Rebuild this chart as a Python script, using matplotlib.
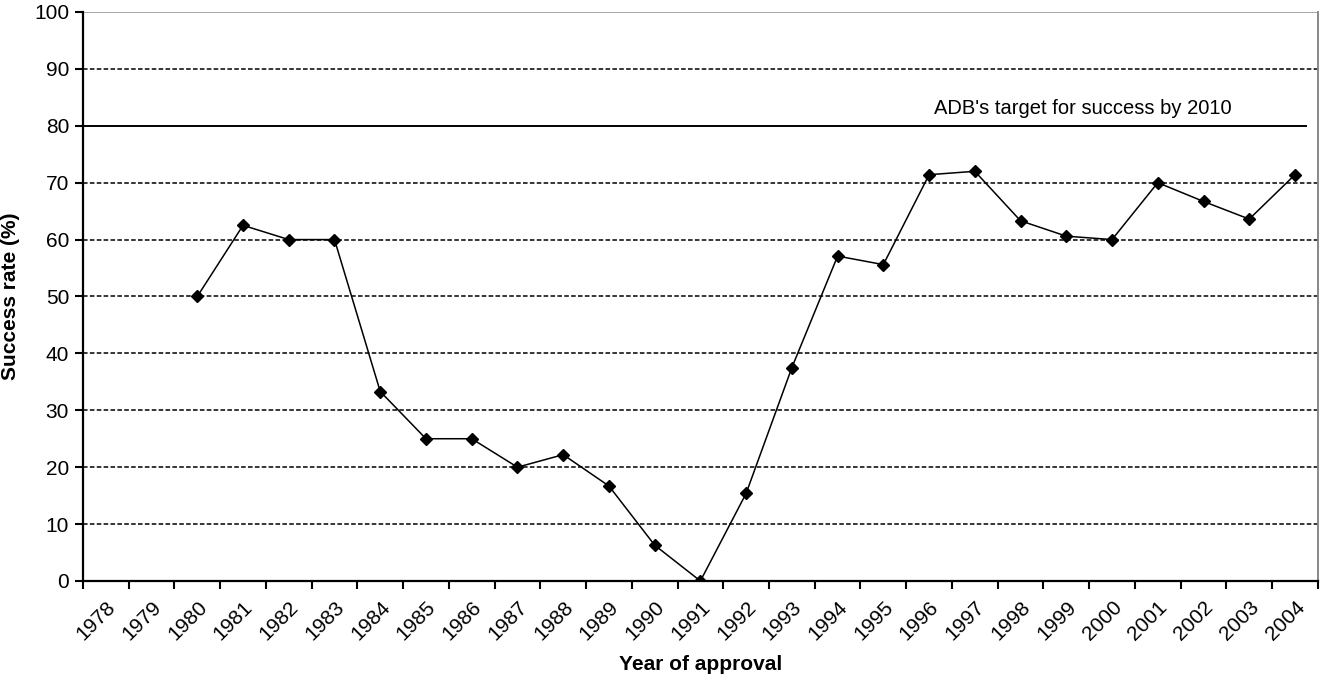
import matplotlib
matplotlib.use("Agg")
import matplotlib.pyplot as plt
import numpy as np

years = list(range(1978, 2005))
# success rate per approval year; no data for 1978-1979
rates = [None, None, 50, 62.5, 60, 60, 33.3, 25, 25, 20, 22.2, 16.7, 6.3, 0,
         15.4, 37.5, 57.1, 55.6, 71.4, 72, 63.3, 60.6, 60, 70, 66.7, 63.6, 71.4]
target = 80
yticks = list(range(0, 101, 10))

plt.rcParams['font.family'] = ['Liberation Sans', 'DejaVu Sans']

fig = plt.figure(figsize=(13.25, 6.8), dpi=100)
ax = fig.add_axes([0.0626, 0.1456, 0.932, 0.8368])

x = np.arange(len(years)) + 0.5
y = np.array([np.nan if r is None else r for r in rates], dtype=float)

for v in yticks[1:-1]:
    if v == target:
        continue
    ax.axhline(v, color='black', lw=1.1, ls=(0, (3, 1.5)), zorder=1)
ax.axhline(100, color='#999999', lw=1.2, zorder=1)
ax.plot([0, len(years) - 0.25], [target, target], color='black', lw=1.4, zorder=2)
ax.text(18.6, target + 1.3, "ADB's target for success by 2010", fontsize=14.5,
        ha='left', va='bottom')

ax.plot(x, y, color='black', lw=1.1, marker='D', markersize=6.5, zorder=3)

ax.set_xlim(0, len(years))
ax.set_ylim(0, 100)
ax.set_yticks(yticks)
ax.set_xticks(np.arange(len(years) + 1))
ax.set_xticklabels([])
ax.set_xticks(x, minor=True)
ax.set_xticklabels([str(yr) for yr in years], minor=True, rotation=45,
                   ha='right', rotation_mode='anchor', fontsize=15)
ax.tick_params(axis='x', which='minor', length=0, pad=12)
ax.tick_params(axis='x', which='major', length=6, width=1.5)
ax.tick_params(axis='y', length=6, width=1.5, labelsize=15, pad=4)

for s in ['left', 'bottom']:
    ax.spines[s].set_linewidth(1.6)
ax.spines['top'].set_visible(False)
ax.spines['right'].set_color('#888888')
ax.spines['right'].set_linewidth(1.4)

ax.set_ylabel('Success rate (%)', fontsize=15, fontweight='bold', labelpad=10)
ax.set_xlabel('Year of approval', fontsize=15, fontweight='bold', labelpad=8)

fig.savefig('out.png', dpi=100)
